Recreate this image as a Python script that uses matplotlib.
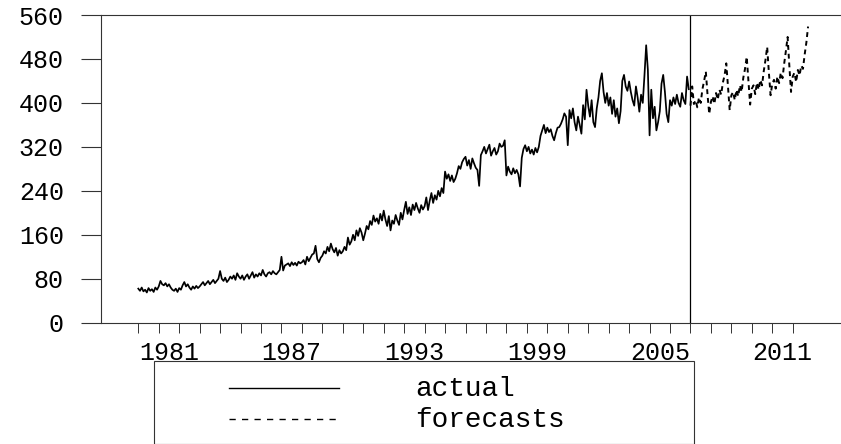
import numpy as np
import matplotlib
matplotlib.use("Agg")
import matplotlib.pyplot as plt
from matplotlib.patches import Rectangle
from matplotlib.lines import Line2D

# monthly values, 1980M01 .. 2006M12 (one row per year)
actual = [
    62, 58, 64, 57, 60, 55, 63, 58, 61, 56, 64, 60,          # 1980
    66, 76, 70, 68, 72, 66, 70, 64, 60, 58, 62, 56,          # 1981
    63, 60, 68, 74, 66, 70, 64, 60, 66, 62, 67, 63,          # 1982
    66, 70, 74, 68, 72, 76, 70, 74, 78, 72, 76, 80,          # 1983
    94, 80, 76, 82, 74, 78, 84, 80, 86, 78, 90, 84,          # 1984
    80, 86, 78, 84, 88, 80, 86, 92, 82, 88, 84, 90,          # 1985
    86, 96, 88, 84, 90, 92, 88, 94, 90, 88, 92, 96,          # 1986
    120, 95, 104, 106, 108, 103, 110, 105, 109, 104, 111, 108,  # 1987
    110, 114, 106, 120, 112, 118, 124, 126, 140, 116, 110, 118,  # 1988
    122, 130, 126, 138, 130, 144, 134, 128, 136, 122, 132, 126,  # 1989
    130, 138, 132, 155, 142, 148, 160, 150, 168, 158, 172, 164,  # 1990
    150, 162, 176, 170, 185, 178, 195, 184, 190, 180, 198, 186,  # 1991
    204, 188, 176, 194, 168, 186, 180, 196, 186, 178, 200, 188,  # 1992
    205, 220, 198, 210, 196, 215, 205, 218, 208, 200, 214, 206,  # 1993
    212, 228, 205, 222, 236, 218, 232, 224, 240, 230, 245, 236,  # 1994
    275, 262, 270, 258, 268, 256, 262, 272, 285, 280, 292, 298,  # 1995
    302, 286, 296, 280, 299, 290, 282, 278, 249, 305, 312, 320,  # 1996
    308, 316, 324, 304, 312, 318, 306, 312, 326, 320, 322, 332,  # 1997
    268, 284, 275, 270, 281, 272, 278, 270, 248, 300, 316, 323,  # 1998
    312, 320, 308, 315, 306, 318, 310, 320, 340, 350, 360, 345,  # 1999
    355, 347, 352, 340, 332, 345, 355, 356, 362, 370, 381, 375,  # 2000
    323, 387, 372, 390, 365, 350, 375, 360, 344, 396, 370, 424,  # 2001
    395, 375, 405, 365, 356, 390, 410, 440, 454, 420, 400, 418,  # 2002
    395, 410, 380, 405, 375, 390, 363, 385, 440, 451, 430, 422,  # 2003
    439, 420, 405, 395, 430, 410, 384, 415, 400, 450, 505, 460,  # 2004
    341, 424, 372, 393, 350, 365, 385, 435, 451, 420, 380, 365,  # 2005
    405, 395, 410, 398, 415, 400, 393, 418, 405, 398, 448, 425,  # 2006
]

# forecasts 2007M01 .. 2012M10
forecasts = [
    395, 430, 398, 405, 392, 410, 400, 425, 440, 457, 415, 380,  # 2007
    402, 412, 398, 418, 406, 424, 415, 437, 450, 472, 430, 387,  # 2008
    414, 420, 405, 424, 412, 432, 420, 446, 462, 484, 440, 397,  # 2009
    426, 432, 416, 437, 424, 442, 432, 458, 478, 502, 455, 414,  # 2010
    435, 442, 426, 448, 436, 455, 445, 472, 495, 520, 468, 420,  # 2011
    448, 455, 438, 460, 450, 468, 462, 488, 510, 539,            # 2012
]

start_year = 1980
fc_start = 2007
year_labels = [1981, 1987, 1993, 1999, 2005, 2011]
y_ticks = [0, 80, 160, 240, 320, 400, 480, 560]

t_act = start_year + np.arange(len(actual)) / 12.0
t_fc = fc_start + np.arange(len(forecasts)) / 12.0

font = "Liberation Mono"
frame_c = "#333333"

fig = plt.figure(figsize=(8.41, 4.44), dpi=100)
ax = fig.add_axes([0.1197, 0.2732, 0.8803, 0.6930])

ax.plot(t_act, actual, color="black", lw=1.25)
ax.plot(t_fc, forecasts, color="black", lw=1.4, ls=(0, (2.5, 2.0)))
ax.axvline(fc_start, color="black", lw=0.9)

ax.set_xlim(1978.16, 2014.36)
ax.set_ylim(0, 560)

ax.spines["right"].set_visible(False)
for s in ["left", "top", "bottom"]:
    ax.spines[s].set_color(frame_c)
    ax.spines[s].set_linewidth(0.8)

# yearly ticks, labels sit in the middle of the year
ax.set_xticks(np.arange(1980, 2013))
ax.set_xticklabels([])
ax.set_xticks([y + 0.5 for y in year_labels], minor=True)
ax.set_xticklabels([str(y) for y in year_labels], minor=True,
                   fontfamily=font, fontsize=18)
ax.tick_params(axis="x", which="major", direction="out", length=7.5,
               width=0.7, color=frame_c)
ax.tick_params(axis="x", which="minor", length=0, pad=13)

ax.set_yticks(y_ticks)
ax.set_yticklabels([str(v) for v in y_ticks], fontfamily=font, fontsize=18)
ax.tick_params(axis="y", direction="out", length=14.5, width=0.8,
               color=frame_c, pad=12)

# legend box below the plot
fig.add_artist(Rectangle((0.1831, 0.0011), 0.6421, 0.1858, transform=fig.transFigure,
                         fill=False, ec=frame_c, lw=0.8))
fig.add_artist(Line2D([0.2723, 0.4031], [0.1254, 0.1254], transform=fig.transFigure,
                      color="black", lw=1.0))
fig.add_artist(Line2D([0.2723, 0.4031], [0.0556, 0.0556], transform=fig.transFigure,
                      color="black", lw=1.0, ls=(0, (4.5, 4.5))))
fig.text(0.4935, 0.1092, "actual", fontfamily=font, fontsize=20, va="baseline")
fig.text(0.4935, 0.0390, "forecasts", fontfamily=font, fontsize=20, va="baseline")

fig.savefig("out.png", dpi=100)
